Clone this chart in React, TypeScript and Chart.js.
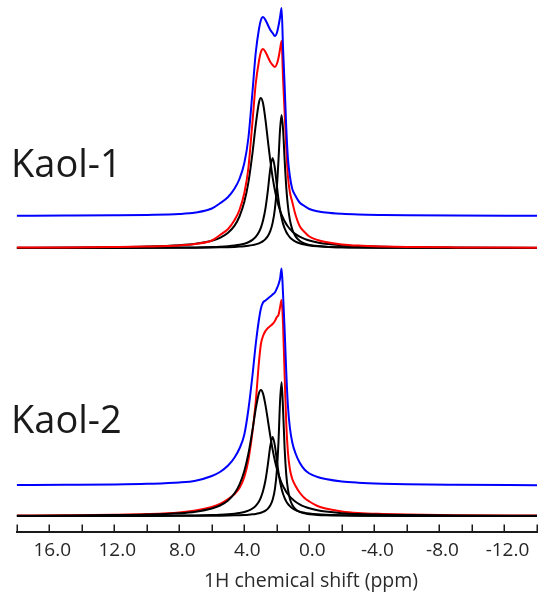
import { useEffect, useRef } from "react";
import { Chart, registerables } from "chart.js";

Chart.register(...registerables);

// chemical shift grid (ppm)
const PPM = [18, 15, 12, 10, 8, 7, 6, 5.5, 5, 4.6, 4.3, 4.0, 3.75, 3.5, 3.3, 3.1, 2.98, 2.85, 2.7, 2.55, 2.4, 2.26, 2.12, 2.0, 1.9, 1.8, 1.71, 1.62, 1.52, 1.42, 1.32, 1.2, 1.05, 0.85, 0.6, 0.3, 0, -0.5, -1, -2, -3, -4.5, -6, -9, -14];

// Kaol-1 intensities
const K1_BLUE = [0.2, 0.4, 0.7, 1.1, 2, 3.5, 7.5, 12.7, 19, 27.5, 37, 53, 78, 124, 163, 187, 196, 199, 196, 191, 186, 183, 180, 183, 190, 199, 208, 168, 130, 88, 58, 40, 27, 20, 13.5, 10, 7, 4.8, 3.5, 2.2, 1.5, 1, 0.7, 0.4, 0.2];
const K1_RED = [0.4, 0.6, 1.0, 1.5, 2.6, 4.0, 7.5, 13, 19, 28, 38, 55, 80, 126, 164, 187, 196, 199, 196, 191, 186, 183, 181, 184, 190, 199, 207, 170, 135, 100, 72, 56, 46, 33, 22, 16, 11.5, 8, 6, 3.6, 2.4, 1.5, 1.0, 0.6, 0.3];
const K1_A = [0.31, 0.48, 0.85, 1.39, 2.7, 4.17, 7.24, 10.2, 15.3, 22.4, 31.5, 46.2, 65.7, 94.6, 122.8, 145.5, 150, 144.7, 128.2, 107.1, 86.8, 70.7, 57.7, 48.7, 42.6, 37.4, 33.4, 30.0, 26.7, 23.9, 21.5, 19.1, 16.6, 13.9, 11.3, 9.08, 7.42, 5.51, 4.26, 2.75, 1.91, 1.23, 0.86, 0.48, 0.24];
const K1_C = [0.055, 0.084, 0.144, 0.228, 0.415, 0.607, 0.968, 1.29, 1.79, 2.43, 3.17, 4.3, 5.77, 8.11, 11.06, 15.96, 20.4, 27.4, 39.6, 57.9, 79.7, 90, 79.7, 62.3, 48.6, 37.6, 30.1, 24.4, 19.6, 15.96, 13.2, 10.7, 8.47, 6.4, 4.71, 3.43, 2.6, 1.76, 1.27, 0.75, 0.49, 0.3, 0.2, 0.11, 0.05];
const K1_B = [0.035, 0.053, 0.088, 0.136, 0.236, 0.333, 0.506, 0.649, 0.86, 1.11, 1.38, 1.76, 2.21, 2.86, 3.6, 4.67, 5.55, 6.82, 8.92, 12.0, 17.1, 25.1, 39.2, 60.4, 87.8, 119.2, 133, 119.2, 87.8, 60.4, 42.0, 28.3, 18.5, 11.6, 7.18, 4.54, 3.12, 1.89, 1.26, 0.68, 0.42, 0.24, 0.157, 0.081, 0.038];

// Kaol-2 intensities
const K2_BLUE = [0.4, 0.7, 1.1, 1.7, 3, 4.8, 9.5, 13.5, 20, 28, 37, 51, 76, 110, 141, 166, 177, 183, 185, 187, 189, 191, 193, 197, 201, 207, 217, 192, 155, 113, 80, 58, 43, 32, 23, 16, 12, 8.5, 6.5, 4, 2.8, 1.8, 1.2, 0.7, 0.3];
const K2_RED = [0.5, 0.8, 1.3, 2, 3.6, 5.5, 9, 12, 17, 22, 28, 39, 56, 84, 114, 154, 172, 180, 185, 188, 190, 192, 195, 199, 201, 209, 216, 192, 140, 92, 64, 47, 37, 30, 23.5, 18, 14.5, 10, 7.5, 4.5, 3, 2, 1.4, 0.8, 0.4];
const K2_A = [0.32, 0.5, 0.89, 1.46, 2.83, 4.35, 7.5, 10.5, 15.6, 22.7, 31.4, 45, 62.2, 85.8, 107, 122.9, 126, 122.4, 110.9, 95.5, 79.6, 66.4, 55.3, 47.3, 41.7, 37.0, 33.2, 30.0, 26.9, 24.1, 21.8, 19.4, 16.9, 14.2, 11.7, 9.4, 7.7, 5.73, 4.44, 2.87, 2.0, 1.29, 0.9, 0.51, 0.25];
const K2_C = [0.051, 0.078, 0.13, 0.21, 0.38, 0.56, 0.89, 1.19, 1.65, 2.24, 2.93, 3.97, 5.3, 7.45, 10.2, 14.6, 18.6, 24.9, 35.7, 51.8, 70.4, 79, 70.4, 55.5, 43.6, 34.0, 27.3, 22.2, 17.9, 14.6, 12.1, 9.85, 7.78, 5.88, 4.34, 3.16, 2.4, 1.63, 1.17, 0.69, 0.45, 0.28, 0.185, 0.1, 0.048];
const K2_B = [0.02, 0.03, 0.051, 0.078, 0.136, 0.19, 0.29, 0.37, 0.5, 0.64, 0.8, 1.02, 1.29, 1.67, 2.11, 2.76, 3.29, 4.07, 5.36, 7.36, 10.7, 16.2, 26.8, 45.3, 74.0, 115.5, 133.7, 107.2, 67.0, 41.2, 26.8, 17.3, 11.0, 6.73, 4.14, 2.61, 1.79, 1.08, 0.72, 0.39, 0.24, 0.14, 0.09, 0.047, 0.022];

// vertical stacking offsets of each trace group
const OFFSET_K1_BLUE = 300;
const OFFSET_K1 = 268;
const OFFSET_K2_BLUE = 30.5;
const OFFSET_K2 = 0;

const X_MIN = -14;
const X_MAX = 18;
const TICK_STEP = 2;
const LABEL_STEP = 4;
const X_TITLE = "1H chemical shift (ppm)";
const SAMPLE_NAMES = ["Kaol-1", "Kaol-2"];

const BLUE = "#0000ff";
const RED = "#ff0000";
const BLACK = "#000000";
const AXIS = "#1a1a1a";

export default function App() {
  const ref = useRef<HTMLCanvasElement>(null);

  useEffect(() => {
    const canvas = ref.current;
    if (!canvas) return;

    const pts = (arr: number[], off: number) => PPM.map((x, i) => ({ x, y: arr[i] + off }));
    const line = (label: string, arr: number[], off: number, color: string) => ({
      label,
      data: pts(arr, off),
      borderColor: color,
      borderWidth: 2,
      pointRadius: 0,
      fill: false,
      cubicInterpolationMode: "monotone" as const,
    });

    // first dataset is drawn on top
    const datasets = [
      line("Kaol-1 exp", K1_BLUE, OFFSET_K1_BLUE, BLUE),
      line("Kaol-1 fit", K1_RED, OFFSET_K1, RED),
      line("Kaol-1 c1", K1_A, OFFSET_K1, BLACK),
      line("Kaol-1 c2", K1_B, OFFSET_K1, BLACK),
      line("Kaol-1 c3", K1_C, OFFSET_K1, BLACK),
      line("Kaol-2 exp", K2_BLUE, OFFSET_K2_BLUE, BLUE),
      line("Kaol-2 c1", K2_A, OFFSET_K2, BLACK),
      line("Kaol-2 c2", K2_B, OFFSET_K2, BLACK),
      line("Kaol-2 c3", K2_C, OFFSET_K2, BLACK),
      line("Kaol-2 fit", K2_RED, OFFSET_K2, RED),
    ];

    const textPlugin = {
      id: "annotText",
      afterDraw(chart: any) {
        const ctx = chart.ctx as CanvasRenderingContext2D;
        const xs = chart.scales.x;
        const bottom = chart.chartArea.bottom;
        ctx.save();
        // inward tick marks on the x axis
        ctx.strokeStyle = AXIS;
        ctx.lineWidth = 1.5;
        ctx.beginPath();
        for (const t of xs.ticks) {
          const px = Math.round(xs.getPixelForValue(t.value)) + 0.25;
          ctx.moveTo(px, bottom);
          ctx.lineTo(px, bottom - 7);
        }
        ctx.stroke();
        // sample names and axis title
        ctx.fillStyle = "#1a1a1a";
        ctx.font = '38px "Open Sans"';
        ctx.textAlign = "left";
        ctx.textBaseline = "alphabetic";
        ctx.fillText(SAMPLE_NAMES[0], 11, 176.5);
        ctx.fillText(SAMPLE_NAMES[1], 11, 433);
        ctx.font = '19.5px "Open Sans"';
        ctx.fillStyle = "#2a2a2a";
        ctx.textAlign = "center";
        ctx.textBaseline = "middle";
        ctx.fillText(X_TITLE, 311, 581);
        ctx.restore();
      },
    };

    const chart = new Chart(canvas, {
      type: "line",
      data: { datasets: datasets as any },
      options: {
        responsive: false,
        animation: false,
        devicePixelRatio: 1,
        events: [],
        layout: { padding: { left: 16.7, right: 1, top: 0, bottom: 0 } },
        plugins: { legend: { display: false }, tooltip: { enabled: false } },
        scales: {
          x: {
            type: "linear",
            reverse: true,
            min: X_MIN,
            max: X_MAX,
            afterFit: (s: any) => {
              s.height = 68.5;
            },
            border: { display: true, color: AXIS, width: 2 },
            grid: {
              display: true,
              drawOnChartArea: false,
              drawTicks: true,
              tickLength: 8,
              color: "rgba(0,0,0,0)",
            },
            ticks: {
              stepSize: TICK_STEP,
              autoSkip: false,
              maxRotation: 0,
              padding: 0,
              labelOffset: 3,
              color: "#262626",
              font: { family: "Open Sans", size: 19 },
              callback: (v: any) => {
                const n = Number(v);
                return n % LABEL_STEP === 0 && n > X_MIN && n < X_MAX ? n.toFixed(1) : "";
              },
            },
          },
          y: { type: "linear", display: false, min: -15.5, max: 516 },
        },
      },
      plugins: [textPlugin],
    });

    return () => chart.destroy();
  }, []);

  return (
    <canvas
      ref={ref}
      width={538}
      height={600}
      style={{ position: "absolute", left: 0, top: 0, width: 538, height: 600 }}
    />
  );
}
